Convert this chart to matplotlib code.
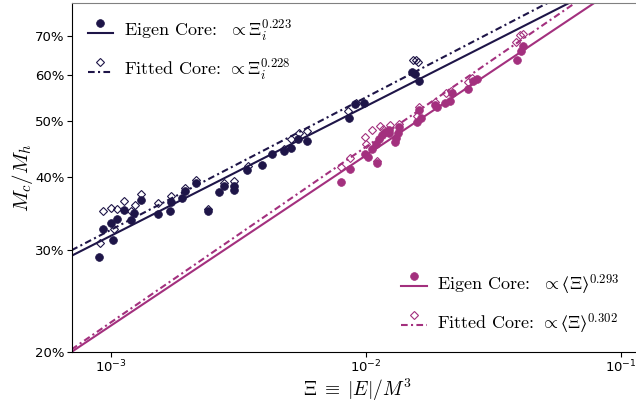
"""Core-to-halo mass ratio against Xi = |E|/M^3, eigen vs fitted cores."""

import numpy as np
import matplotlib
matplotlib.use("Agg")
import matplotlib.pyplot as plt
from matplotlib.font_manager import FontProperties
from matplotlib.legend_handler import HandlerBase
from matplotlib.lines import Line2D
from matplotlib.ticker import FixedLocator, NullLocator, FuncFormatter, LogLocator

NAVY = "#1e1548"
PINK = "#a3307e"

# --- individual halos (Xi_i) -------------------------------------------------
xi_dark_eig = [8.97e-4, 9.31e-4, 1.018e-3, 1.0e-3, 1.053e-3, 1.125e-3, 1.231e-3,
               1.201e-3, 1.308e-3, 1.529e-3, 1.699e-3, 1.724e-3, 1.898e-3, 1.956e-3,
               2.149e-3, 2.401e-3, 2.659e-3, 2.782e-3, 3.037e-3, 3.037e-3, 3.423e-3,
               3.899e-3, 4.268e-3, 4.77e-3, 5.067e-3, 5.397e-3, 5.886e-3, 8.6e-3,
               9.08e-3, 9.88e-3, 1.519e-2, 1.556e-2, 1.614e-2]
mr_dark_eig = [0.292, 0.326, 0.312, 0.333, 0.339, 0.351, 0.347, 0.337, 0.365, 0.346,
               0.350, 0.362, 0.369, 0.379, 0.391, 0.350, 0.377, 0.386, 0.386, 0.381,
               0.411, 0.420, 0.438, 0.444, 0.450, 0.466, 0.461, 0.505, 0.534, 0.536,
               0.607, 0.602, 0.586]

xi_dark_fit = [9.03e-4, 9.31e-4, 9.97e-4, 1.053e-3, 1.027e-3, 1.125e-3, 1.201e-3,
               1.239e-3, 1.308e-3, 1.529e-3, 1.715e-3, 1.956e-3, 2.149e-3, 2.401e-3,
               2.782e-3, 3.037e-3, 3.445e-3, 4.77e-3, 5.067e-3, 5.475e-3, 5.855e-3,
               8.52e-3, 9.19e-3, 1.533e-2, 1.58e-2, 1.604e-2]
mr_dark_fit = [0.308, 0.350, 0.354, 0.353, 0.326, 0.364, 0.350, 0.358, 0.374, 0.361,
               0.371, 0.384, 0.395, 0.353, 0.391, 0.394, 0.418, 0.448, 0.466, 0.477,
               0.480, 0.520, 0.537, 0.636, 0.636, 0.632]

# --- averaged runs (<Xi>) -----------------------------------------------------
xi_pink_eig = [8.01e-3, 8.68e-3, 9.95e-3, 1.023e-2, 1.062e-2, 1.106e-2, 1.094e-2,
               1.125e-2, 1.161e-2, 1.187e-2, 1.238e-2, 1.238e-2, 1.299e-2, 1.319e-2,
               1.341e-2, 1.356e-2, 1.585e-2, 1.646e-2, 1.624e-2, 1.865e-2, 1.904e-2,
               2.041e-2, 2.135e-2, 2.188e-2, 2.518e-2, 2.64e-2, 2.744e-2, 3.909e-2,
               4.064e-2, 4.139e-2]
mr_pink_eig = [0.393, 0.413, 0.438, 0.434, 0.447, 0.424, 0.457, 0.465, 0.473, 0.479,
               0.482, 0.476, 0.460, 0.468, 0.476, 0.488, 0.498, 0.505, 0.523, 0.532,
               0.529, 0.537, 0.542, 0.558, 0.568, 0.586, 0.590, 0.636, 0.661, 0.673]

xi_pink_fit = [8.03e-3, 8.66e-3, 9.91e-3, 1.006e-2, 1.062e-2, 1.135e-2, 1.169e-2,
               1.242e-2, 1.111e-2, 1.351e-2, 1.618e-2, 1.589e-2, 1.865e-2, 2.06e-2,
               2.151e-2, 2.518e-2, 2.616e-2, 3.899e-2, 4.017e-2, 4.139e-2]
mr_pink_fit = [0.416, 0.432, 0.469, 0.457, 0.482, 0.490, 0.485, 0.493, 0.426, 0.495,
               0.529, 0.510, 0.539, 0.558, 0.563, 0.584, 0.592, 0.684, 0.702, 0.707]

# power-law fits: ratio = norm * (Xi / 1e-2) ** exp
FIT_EXP = {"dark_eig": 0.223, "dark_fit": 0.228, "pink_eig": 0.293, "pink_fit": 0.302}
FIT_NORM = {"dark_eig": 0.530, "dark_fit": 0.549, "pink_eig": 0.436, "pink_fit": 0.451}

LABELS_DARK = [r"Eigen Core:  $\propto \Xi_i^{0.223}$",
               r"Fitted Core: $\propto \Xi_i^{0.228}$"]
LABELS_PINK = ["Eigen Core:  $\\propto$$\u27e8\\Xi\u27e9^{0.293}$",
               "Fitted Core: $\\propto$$\u27e8\\Xi\u27e9^{0.302}$"]

Y_TICKS = [0.2, 0.3, 0.4, 0.5, 0.6, 0.7]
XLIM = (7e-4, 0.115)
YLIM = (0.2, 0.8)

DASHDOT = (0, (3.2, 1.6, 1.0, 1.6))


class MarkerOverLine(HandlerBase):
    """Legend handle: the marker sits above a short sample of the line."""

    def create_artists(self, legend, orig_handle, xdescent, ydescent,
                       width, height, fontsize, trans):
        line, mark = orig_handle
        y0 = height / 2 - ydescent
        ln = Line2D([-xdescent, width - xdescent], [y0 - 0.12 * fontsize] * 2,
                    color=line.get_color(), ls=line.get_linestyle(),
                    lw=line.get_linewidth())
        if line.get_linestyle() != "-":
            ln.set_dashes(DASHDOT[1])
        mk = Line2D([width / 2 - xdescent], [y0 + 0.42 * fontsize], ls="none",
                    marker=mark.get_marker(), ms=mark.get_markersize(),
                    mfc=mark.get_markerfacecolor(), mec=mark.get_markeredgecolor(),
                    mew=mark.get_markeredgewidth())
        ln.set_transform(trans)
        mk.set_transform(trans)
        return [ln, mk]


def fit_line(key, x):
    return FIT_NORM[key] * (x / 1e-2) ** FIT_EXP[key]


fig = plt.figure(figsize=(6.36, 4.07), dpi=100)
ax = fig.add_axes([71.5 / 636, 1 - 352 / 407, 1 - 71.5 / 636, (352 - 2.5) / 407])

xs = np.geomspace(*XLIM, 200)
handles = {}
for key, color, xi_e, mr_e, xi_f, mr_f in [
    ("dark", NAVY, xi_dark_eig, mr_dark_eig, xi_dark_fit, mr_dark_fit),
    ("pink", PINK, xi_pink_eig, mr_pink_eig, xi_pink_fit, mr_pink_fit),
]:
    l_e, = ax.plot(xs, fit_line(key + "_eig", xs), color=color, lw=1.5, ls="-")
    l_f, = ax.plot(xs, fit_line(key + "_fit", xs), color=color, lw=1.5, ls=DASHDOT)
    m_e, = ax.plot(xi_e, mr_e, ls="none", marker="o", ms=5.6, mfc=color, mec=color,
                   mew=0.5)
    m_f, = ax.plot(xi_f, mr_f, ls="none", marker="D", ms=4.5, mfc="none", mec=color,
                   mew=0.8)
    handles[key] = [(l_e, m_e), (l_f, m_f)]

ax.set_xscale("log")
ax.set_yscale("log")
ax.set_xlim(*XLIM)
ax.set_ylim(*YLIM)
ax.xaxis.set_major_locator(LogLocator(base=10))
ax.xaxis.set_minor_locator(NullLocator())
ax.yaxis.set_major_locator(FixedLocator(Y_TICKS))
ax.yaxis.set_minor_locator(NullLocator())
ax.yaxis.set_major_formatter(FuncFormatter(lambda v, _: f"{v * 100:.0f}%"))
ax.tick_params(labelsize=9.5, length=3.5, width=0.8, pad=1.5)

ax.spines["right"].set_visible(False)
ax.spines["top"].set_color("0.5")

ax.set_xlabel(r"$\Xi \;\equiv\; |E|/M^3$", fontsize=14, math_fontfamily="cm")
ax.xaxis.set_label_coords(0.506, -0.07)
ax.set_ylabel(r"$M_c/M_h$", fontsize=15, math_fontfamily="cm")
ax.yaxis.set_label_coords(-0.064, 0.5)

prop = FontProperties(family="cmr10", size=13, math_fontfamily="cm")
common = dict(handler_map={tuple: MarkerOverLine()}, frameon=False, prop=prop,
              handlelength=1.4, handletextpad=0.6, labelspacing=0.8)
leg1 = ax.legend(handles["dark"], LABELS_DARK, loc="upper left",
                 borderaxespad=0.5, **common)
ax.add_artist(leg1)
ax.legend(handles["pink"], LABELS_PINK, loc="lower right",
          borderaxespad=0.5, **common)

fig.savefig("out.png", dpi=100)
